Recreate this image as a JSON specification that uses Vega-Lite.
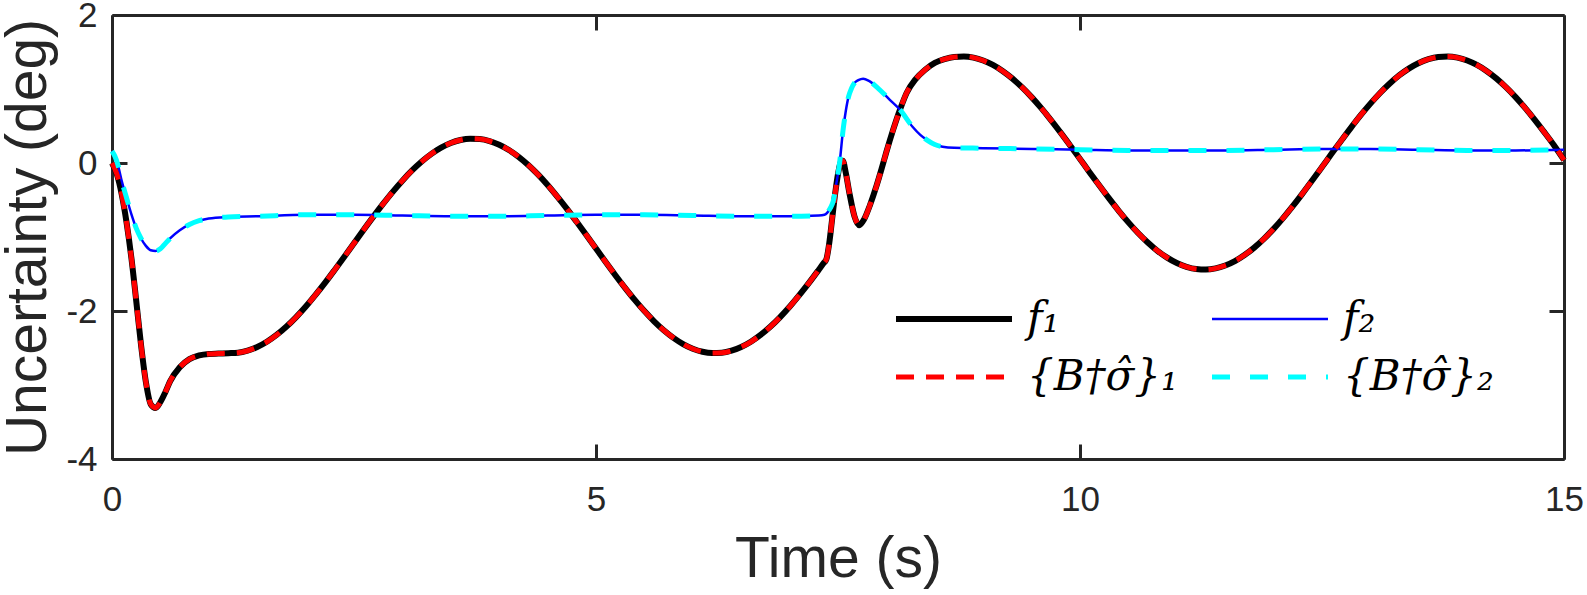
{
  "$schema": "https://vega.github.io/schema/vega-lite/v6.json",
  "width": 1452,
  "height": 444,
  "autosize": {"type": "none"},
  "padding": {"left": 112, "top": 15, "right": 23, "bottom": 136},
  "background": "white",
  "config": {
    "view": {"stroke": null},
    "axis": {
      "grid": false,
      "domainColor": "#262626",
      "domainWidth": 3,
      "tickColor": "#262626",
      "tickWidth": 3,
      "tickSize": -15,
      "labelFont": "Liberation Sans",
      "labelFontSize": 35,
      "labelColor": "#262626",
      "labelFlush": false,
      "labelOverlap": false,
      "titleFont": "Liberation Sans",
      "titleFontSize": 57,
      "titleFontWeight": "normal",
      "titleColor": "#262626"
    }
  },
  "datasets": {
    "f1": [
      {"t": 0, "v": 0}, {"t": 0.05, "v": -0.15}, {"t": 0.1, "v": -0.42}, {"t": 0.15, "v": -0.8},
      {"t": 0.2, "v": -1.28}, {"t": 0.25, "v": -1.86}, {"t": 0.3, "v": -2.46}, {"t": 0.35, "v": -2.96},
      {"t": 0.4, "v": -3.26}, {"t": 0.45, "v": -3.31}, {"t": 0.5, "v": -3.23}, {"t": 0.55, "v": -3.1},
      {"t": 0.6, "v": -2.95}, {"t": 0.7, "v": -2.76}, {"t": 0.8, "v": -2.65}, {"t": 0.9, "v": -2.6},
      {"t": 1.0, "v": -2.58}, {"t": 1.1, "v": -2.575}, {"t": 1.2, "v": -2.57}, {"t": 1.3, "v": -2.564},
      {"t": 1.4, "v": -2.537}, {"t": 1.5, "v": -2.487}, {"t": 1.6, "v": -2.416}, {"t": 1.7, "v": -2.324},
      {"t": 1.8, "v": -2.214}, {"t": 1.9, "v": -2.086}, {"t": 2.0, "v": -1.943}, {"t": 2.1, "v": -1.786},
      {"t": 2.2, "v": -1.62}, {"t": 2.3, "v": -1.445}, {"t": 2.4, "v": -1.266}, {"t": 2.5, "v": -1.084},
      {"t": 2.6, "v": -0.902}, {"t": 2.7, "v": -0.724}, {"t": 2.8, "v": -0.553}, {"t": 2.9, "v": -0.39},
      {"t": 3.0, "v": -0.239}, {"t": 3.1, "v": -0.101}, {"t": 3.2, "v": 0.02}, {"t": 3.3, "v": 0.123},
      {"t": 3.4, "v": 0.207}, {"t": 3.5, "v": 0.27}, {"t": 3.6, "v": 0.311}, {"t": 3.7, "v": 0.329},
      {"t": 3.8, "v": 0.324}, {"t": 3.9, "v": 0.297}, {"t": 4.0, "v": 0.247}, {"t": 4.1, "v": 0.176},
      {"t": 4.2, "v": 0.084}, {"t": 4.3, "v": -0.026}, {"t": 4.4, "v": -0.154}, {"t": 4.5, "v": -0.297},
      {"t": 4.6, "v": -0.454}, {"t": 4.7, "v": -0.62}, {"t": 4.8, "v": -0.795}, {"t": 4.9, "v": -0.974},
      {"t": 5.0, "v": -1.156}, {"t": 5.1, "v": -1.338}, {"t": 5.2, "v": -1.516}, {"t": 5.3, "v": -1.687},
      {"t": 5.4, "v": -1.85}, {"t": 5.5, "v": -2.001}, {"t": 5.6, "v": -2.139}, {"t": 5.7, "v": -2.26},
      {"t": 5.8, "v": -2.363}, {"t": 5.9, "v": -2.447}, {"t": 6.0, "v": -2.51}, {"t": 6.1, "v": -2.551},
      {"t": 6.2, "v": -2.569}, {"t": 6.3, "v": -2.564}, {"t": 6.4, "v": -2.537}, {"t": 6.5, "v": -2.487},
      {"t": 6.6, "v": -2.416}, {"t": 6.7, "v": -2.324}, {"t": 6.8, "v": -2.214}, {"t": 6.9, "v": -2.086},
      {"t": 7.0, "v": -1.943}, {"t": 7.1, "v": -1.786}, {"t": 7.2, "v": -1.62}, {"t": 7.3, "v": -1.445},
      {"t": 7.35, "v": -1.356}, {"t": 7.38, "v": -1.3}, {"t": 7.41, "v": -1.08}, {"t": 7.44, "v": -0.75},
      {"t": 7.47, "v": -0.42}, {"t": 7.5, "v": -0.15}, {"t": 7.53, "v": 0.02}, {"t": 7.55, "v": 0.03},
      {"t": 7.58, "v": -0.13}, {"t": 7.62, "v": -0.42}, {"t": 7.67, "v": -0.72}, {"t": 7.72, "v": -0.84},
      {"t": 7.77, "v": -0.76}, {"t": 7.83, "v": -0.57}, {"t": 7.9, "v": -0.3}, {"t": 7.95, "v": -0.08},
      {"t": 8.0, "v": 0.15}, {"t": 8.07, "v": 0.45}, {"t": 8.14, "v": 0.72}, {"t": 8.21, "v": 0.95},
      {"t": 8.3, "v": 1.13}, {"t": 8.4, "v": 1.26}, {"t": 8.5, "v": 1.352}, {"t": 8.6, "v": 1.403},
      {"t": 8.7, "v": 1.433}, {"t": 8.8, "v": 1.44}, {"t": 8.9, "v": 1.424}, {"t": 9.0, "v": 1.385},
      {"t": 9.1, "v": 1.325}, {"t": 9.2, "v": 1.244}, {"t": 9.3, "v": 1.143}, {"t": 9.4, "v": 1.025},
      {"t": 9.5, "v": 0.89}, {"t": 9.6, "v": 0.741}, {"t": 9.7, "v": 0.58}, {"t": 9.8, "v": 0.41},
      {"t": 9.9, "v": 0.234}, {"t": 10.0, "v": 0.054}, {"t": 10.1, "v": -0.127}, {"t": 10.2, "v": -0.305},
      {"t": 10.3, "v": -0.479}, {"t": 10.4, "v": -0.646}, {"t": 10.5, "v": -0.802}, {"t": 10.6, "v": -0.946},
      {"t": 10.7, "v": -1.074}, {"t": 10.8, "v": -1.186}, {"t": 10.9, "v": -1.279}, {"t": 11.0, "v": -1.352},
      {"t": 11.1, "v": -1.403}, {"t": 11.2, "v": -1.433}, {"t": 11.3, "v": -1.44}, {"t": 11.4, "v": -1.424},
      {"t": 11.5, "v": -1.385}, {"t": 11.6, "v": -1.325}, {"t": 11.7, "v": -1.244}, {"t": 11.8, "v": -1.143},
      {"t": 11.9, "v": -1.025}, {"t": 12.0, "v": -0.89}, {"t": 12.1, "v": -0.741}, {"t": 12.2, "v": -0.58},
      {"t": 12.3, "v": -0.41}, {"t": 12.4, "v": -0.234}, {"t": 12.5, "v": -0.054}, {"t": 12.6, "v": 0.127},
      {"t": 12.7, "v": 0.305}, {"t": 12.8, "v": 0.479}, {"t": 12.9, "v": 0.646}, {"t": 13.0, "v": 0.802},
      {"t": 13.1, "v": 0.946}, {"t": 13.2, "v": 1.074}, {"t": 13.3, "v": 1.186}, {"t": 13.4, "v": 1.279},
      {"t": 13.5, "v": 1.352}, {"t": 13.6, "v": 1.403}, {"t": 13.7, "v": 1.433}, {"t": 13.8, "v": 1.44},
      {"t": 13.9, "v": 1.424}, {"t": 14.0, "v": 1.385}, {"t": 14.1, "v": 1.325}, {"t": 14.2, "v": 1.244},
      {"t": 14.3, "v": 1.143}, {"t": 14.4, "v": 1.025}, {"t": 14.5, "v": 0.89}, {"t": 14.6, "v": 0.741},
      {"t": 14.7, "v": 0.58}, {"t": 14.8, "v": 0.41}, {"t": 14.9, "v": 0.234}, {"t": 15.0, "v": 0.04}
    ],
    "f2": [
      {"t": 0, "v": 0.16}, {"t": 0.03, "v": 0.09}, {"t": 0.06, "v": -0.02}, {"t": 0.1, "v": -0.24},
      {"t": 0.15, "v": -0.47}, {"t": 0.2, "v": -0.69}, {"t": 0.25, "v": -0.88}, {"t": 0.3, "v": -1.02},
      {"t": 0.35, "v": -1.12}, {"t": 0.4, "v": -1.18}, {"t": 0.45, "v": -1.19}, {"t": 0.5, "v": -1.16},
      {"t": 0.55, "v": -1.09}, {"t": 0.6, "v": -1.02}, {"t": 0.7, "v": -0.91}, {"t": 0.8, "v": -0.83},
      {"t": 0.9, "v": -0.78}, {"t": 1.0, "v": -0.75}, {"t": 1.2, "v": -0.73}, {"t": 1.5, "v": -0.72},
      {"t": 2.0, "v": -0.7}, {"t": 2.5, "v": -0.7}, {"t": 3.0, "v": -0.71}, {"t": 3.5, "v": -0.72},
      {"t": 4.0, "v": -0.72}, {"t": 4.5, "v": -0.71}, {"t": 5.0, "v": -0.7}, {"t": 5.5, "v": -0.7},
      {"t": 6.0, "v": -0.71}, {"t": 6.5, "v": -0.72}, {"t": 7.0, "v": -0.72}, {"t": 7.3, "v": -0.71},
      {"t": 7.36, "v": -0.7}, {"t": 7.39, "v": -0.67}, {"t": 7.42, "v": -0.61}, {"t": 7.45, "v": -0.52},
      {"t": 7.48, "v": -0.3}, {"t": 7.52, "v": 0.04}, {"t": 7.55, "v": 0.42}, {"t": 7.58, "v": 0.7},
      {"t": 7.61, "v": 0.9}, {"t": 7.64, "v": 1.01}, {"t": 7.67, "v": 1.08}, {"t": 7.71, "v": 1.12},
      {"t": 7.76, "v": 1.14}, {"t": 7.82, "v": 1.11}, {"t": 7.93, "v": 0.99}, {"t": 8.03, "v": 0.86},
      {"t": 8.14, "v": 0.72}, {"t": 8.27, "v": 0.49}, {"t": 8.35, "v": 0.38}, {"t": 8.42, "v": 0.31},
      {"t": 8.5, "v": 0.25}, {"t": 8.58, "v": 0.22}, {"t": 8.7, "v": 0.205}, {"t": 9.0, "v": 0.2},
      {"t": 9.5, "v": 0.19}, {"t": 10.0, "v": 0.18}, {"t": 10.5, "v": 0.17}, {"t": 11.0, "v": 0.17},
      {"t": 11.5, "v": 0.17}, {"t": 12.0, "v": 0.18}, {"t": 12.5, "v": 0.19}, {"t": 13.0, "v": 0.19},
      {"t": 13.5, "v": 0.18}, {"t": 14.0, "v": 0.17}, {"t": 14.5, "v": 0.17}, {"t": 15.0, "v": 0.18}
    ]
  },
  "resolve": {"axis": {"x": "independent", "y": "independent"}},
  "layer": [
    {
      "data": {"name": "f1"},
      "mark": {"type": "line", "interpolate": "monotone", "strokeWidth": 6},
      "encoding": {
        "x": {
          "field": "t", "type": "quantitative",
          "scale": {"domain": [0, 15], "nice": false, "zero": false},
          "axis": {"orient": "bottom", "values": [0, 5, 10, 15], "title": "Time (s)", "labelPadding": 38, "titlePadding": 14}
        },
        "y": {
          "field": "v", "type": "quantitative",
          "scale": {"domain": [-4, 2], "nice": false, "zero": false},
          "axis": {"orient": "left", "values": [-4, -2, 0, 2], "labelExpr": "'' + datum.value", "title": "Uncertainty (deg)", "labelPadding": 30, "titlePadding": 8}
        },
        "color": {
          "datum": "f₁",
          "scale": {"domain": ["f₁", "f₂", "{B†σ̂}₁", "{B†σ̂}₂"], "range": ["#000000", "#0000ff", "#ff0000", "#00ffff"]},
          "legend": {
            "title": null, "orient": "none", "legendX": 783, "legendY": 284,
            "direction": "horizontal", "columns": 2,
            "columnPadding": 33, "rowPadding": 16, "clipHeight": 40, "symbolType": "stroke",
            "symbolSize": 13456, "symbolOffset": 38, "labelFont": "DejaVu Serif", "labelFontStyle": "italic",
            "labelFontSize": 42, "labelColor": "#000000", "labelOffset": 52, "labelLimit": 400,
            "encode": {
              "symbols": {
                "update": {
                  "strokeDash": {"signal": "datum.index < 2 ? [1, 0] : (datum.index == 2 ? [18, 12] : [18, 20])"},
                  "strokeWidth": {"signal": "datum.index == 1 ? 2.5 : (datum.index == 0 ? 6 : 5)"}
                }
              }
            }
          }
        }
      }
    },
    {
      "data": {"name": "f2"},
      "mark": {"type": "line", "interpolate": "monotone", "strokeWidth": 2.5},
      "encoding": {
        "x": {
          "field": "t", "type": "quantitative",
          "axis": {"orient": "top", "values": [0, 5, 10, 15], "labels": false, "title": null}
        },
        "y": {
          "field": "v", "type": "quantitative",
          "axis": {"orient": "right", "values": [-4, -2, 0, 2], "labels": false, "title": null}
        },
        "color": {"datum": "f₂"}
      }
    },
    {
      "data": {"name": "f1"},
      "mark": {"type": "line", "interpolate": "monotone", "strokeWidth": 5, "strokeDash": [18, 12]},
      "encoding": {
        "x": {"field": "t", "type": "quantitative", "axis": null},
        "y": {"field": "v", "type": "quantitative", "axis": null},
        "color": {"datum": "{B†σ̂}₁"}
      }
    },
    {
      "data": {"name": "f2"},
      "mark": {"type": "line", "interpolate": "monotone", "strokeWidth": 5, "strokeDash": [18, 20]},
      "encoding": {
        "x": {"field": "t", "type": "quantitative", "axis": null},
        "y": {"field": "v", "type": "quantitative", "axis": null},
        "color": {"datum": "{B†σ̂}₂"}
      }
    }
  ]
}
